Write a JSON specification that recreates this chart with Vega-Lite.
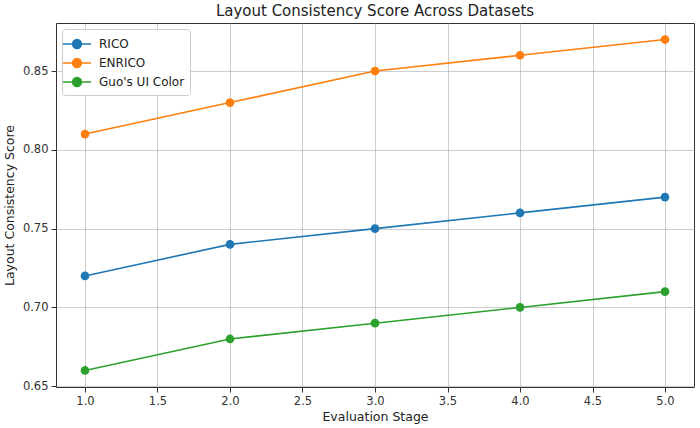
{
  "$schema": "https://vega.github.io/schema/vega-lite/v6.json",
  "width": 638,
  "height": 364,
  "autosize": "none",
  "padding": {"left": 56, "top": 23, "right": 6, "bottom": 41},
  "background": "white",
  "title": {"text": "Layout Consistency Score Across Datasets", "font": "DejaVu Sans", "fontSize": 15, "fontWeight": "normal", "color": "#222222", "offset": 4},
  "data": {"values": [
    {"stage": 1, "dataset": "RICO", "score": 0.72},
    {"stage": 2, "dataset": "RICO", "score": 0.74},
    {"stage": 3, "dataset": "RICO", "score": 0.75},
    {"stage": 4, "dataset": "RICO", "score": 0.76},
    {"stage": 5, "dataset": "RICO", "score": 0.77},
    {"stage": 1, "dataset": "ENRICO", "score": 0.81},
    {"stage": 2, "dataset": "ENRICO", "score": 0.83},
    {"stage": 3, "dataset": "ENRICO", "score": 0.85},
    {"stage": 4, "dataset": "ENRICO", "score": 0.86},
    {"stage": 5, "dataset": "ENRICO", "score": 0.87},
    {"stage": 1, "dataset": "Guo's UI Color", "score": 0.66},
    {"stage": 2, "dataset": "Guo's UI Color", "score": 0.68},
    {"stage": 3, "dataset": "Guo's UI Color", "score": 0.69},
    {"stage": 4, "dataset": "Guo's UI Color", "score": 0.70},
    {"stage": 5, "dataset": "Guo's UI Color", "score": 0.71}
  ]},
  "mark": {"type": "line", "strokeWidth": 1.6, "point": {"filled": true, "size": 75}},
  "encoding": {
    "x": {"field": "stage", "type": "quantitative", "title": "Evaluation Stage",
      "scale": {"domain": [0.8, 5.2], "nice": false, "zero": false},
      "axis": {"values": [1, 1.5, 2, 2.5, 3, 3.5, 4, 4.5, 5], "format": ".1f"}},
    "y": {"field": "score", "type": "quantitative", "title": "Layout Consistency Score",
      "scale": {"domain": [0.6495, 0.8805], "nice": false, "zero": false},
      "axis": {"values": [0.65, 0.70, 0.75, 0.80, 0.85], "format": ".2f"}},
    "color": {"field": "dataset", "type": "nominal", "title": null,
      "scale": {"domain": ["RICO", "ENRICO", "Guo's UI Color"], "range": ["#1f77b4", "#ff7f0e", "#2ca02c"]},
      "legend": {"orient": "top-left", "offset": 6, "fillColor": "white", "strokeColor": "#cccccc", "cornerRadius": 3, "padding": 5,
        "labelFont": "DejaVu Sans", "labelFontSize": 12, "labelColor": "#222222", "symbolSize": 306, "symbolStrokeWidth": 1.6,
        "rowPadding": 1, "labelOffset": 12,
        "symbolType": "M-1.6,0L1.6,0M-0.5,0A0.5,0.5 0 1,1 0.5,0A0.5,0.5 0 1,1 -0.5,0Z"}}
  },
  "config": {
    "font": "DejaVu Sans",
    "view": {"stroke": "#333333", "strokeWidth": 1},
    "axis": {"grid": true, "gridColor": "#b0b0b0", "gridWidth": 0.8, "gridOpacity": 0.8, "domain": false,
      "tickColor": "#333333", "tickSize": 5, "labelFont": "DejaVu Sans", "labelFontSize": 11.5, "labelColor": "#333333",
      "titleFont": "DejaVu Sans", "titleFontSize": 12.5, "titleFontWeight": "normal", "titleColor": "#222222", "labelPadding": 3},
    "axisX": {"titlePadding": 4},
    "axisY": {"titlePadding": 6}
  }
}
